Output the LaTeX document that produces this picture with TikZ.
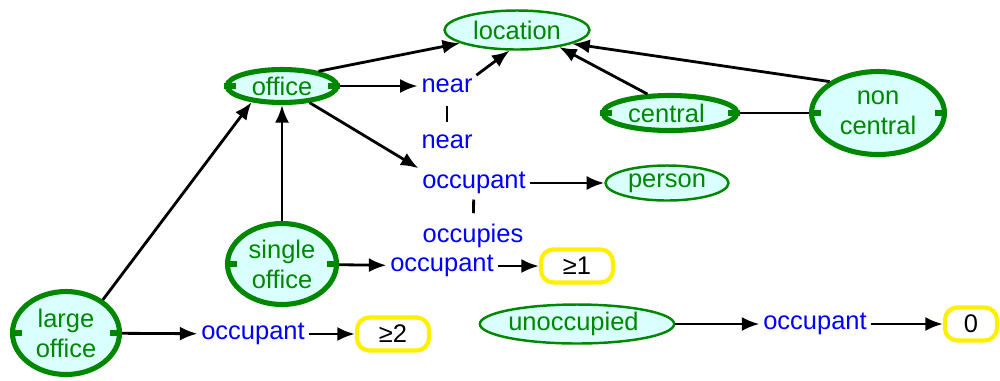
\documentclass[tikz,border=0pt]{standalone}
\usepackage{fontspec}
\setmainfont{Liberation Sans}
\usetikzlibrary{shapes.geometric,arrows.meta}
\definecolor{cgreen}{RGB}{0,135,0}
\definecolor{cfill}{RGB}{218,255,255}
\definecolor{cyellow}{RGB}{255,240,0}
\tikzset{concept/.style={
  ellipse,
  draw=cgreen,fill=cfill,text=cgreen,
  line width=1.4pt,inner sep=0pt,align=center}}
\tikzset{heavy/.style={concept,line width=2.9pt}}
\tikzset{relation/.style={text=blue,inner sep=2pt}}
\tikzset{referent/.style={
  rectangle,rounded corners=7pt,
  draw=cyellow,fill=white,line width=2.4pt,
  minimum height=0.66cm}}
\tikzset{>={Latex[length=10pt,width=8pt]}}
\tikzset{link/.style={line width=1.6pt}}

\begin{document}
\begin{tikzpicture}[x=0.02cm,y=-0.02cm,font=\fontsize{14.5}{17}\selectfont]
  \useasboundingbox (0,0) rectangle (1000,380);
  % concepts: name/position/size/label
  \foreach \n/\p/\w/\h/\l in {
      loc/{(517,30)}/2.9/0.78/location,
      person/{(667,183)}/2.46/0.7/person,
      unocc/{(577,324)}/3.86/0.78/unoccupied }
    \node[concept,minimum width=\w cm,minimum height=\h cm] (\n) at \p {\l};
  \foreach \n/\p/\w/\h/\l in {
      office/{(282,86)}/2.2/0.66/office,
      central/{(670,113)}/2.68/0.7/central }
    \node[heavy,minimum width=\w cm,minimum height=\h cm] (\n) at \p {\l};
  \node[heavy,minimum width=2.66cm,minimum height=1.66cm] (noncentral) at (878,113) {non\\central};
  \node[heavy,minimum width=2.18cm,minimum height=1.62cm] (single) at (282,264) {single\\office};
  \node[heavy,minimum width=2.14cm,minimum height=1.66cm] (large) at (66,333) {large\\office};
  \foreach \n in {office,central,noncentral,single,large}
    \draw[cgreen,line width=2.9pt] (\n.west) -- ++(12,0) (\n.east) -- ++(-12,0);
  % relations
  \foreach \n/\p/\l in {
      near1/{(447,86)}/near, near2/{(447,142)}/near,
      occ1/{(474,183)}/occupant, occs/{(473,236)}/occupies,
      occ2/{(442,266)}/occupant, occ3/{(253,334)}/occupant,
      occ4/{(815,324)}/occupant }
    \node[relation] (\n) at \p {\l};
  % referents
  \node[referent,minimum width=1.44cm] (one) at (577,266) {≥1};
  \node[referent,minimum width=1.44cm] (two) at (393,334) {≥2};
  \node[referent,minimum width=1.04cm] (zero) at (971,324) {0};
  % arcs
  \foreach \m/\n in {office.22/loc.193, office/near1, office/occ1.north west,
      near1.north east/loc.250, central.140/loc.-22, noncentral.147/loc.-14,
      occ1/person, single/office, single/occ2, occ2/one,
      large.42/office.208, large/occ3, occ3/two, unocc/occ4, occ4/zero}
    \draw[link,->] (\m) -- (\n);
  \draw[link] (central) -- (noncentral);
  \draw[link,shorten <=5pt,shorten >=5pt] (near1) -- (near2);
  \draw[link,shorten <=1pt,shorten >=4pt] (occ1) -- (occs);
\end{tikzpicture}
\end{document}
